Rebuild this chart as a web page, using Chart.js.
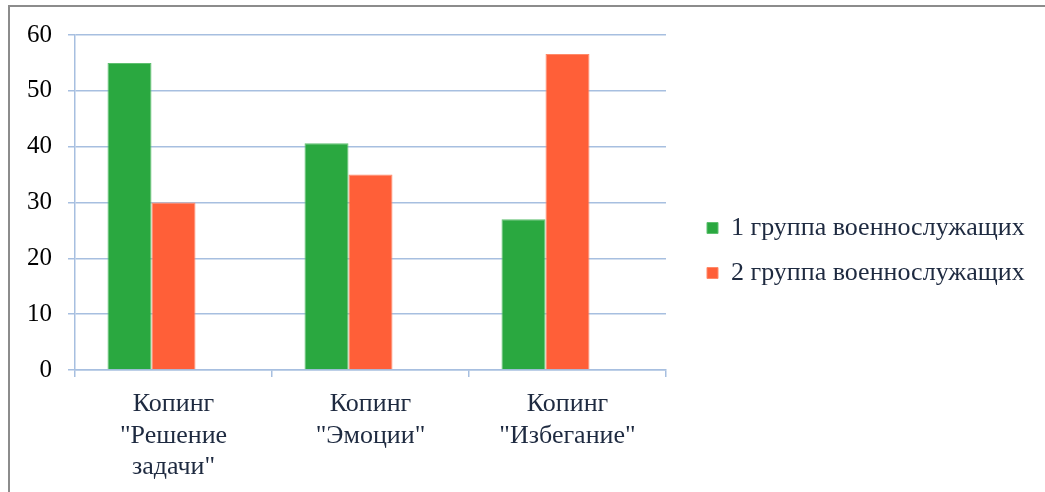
<!DOCTYPE html>
<html>
<head>
<meta charset="utf-8">
<script src="https://cdn.jsdelivr.net/npm/chart.js@4"></script>
<style>
  html, body { margin: 0; padding: 0; background: #fff; }
  #wrap { position: relative; width: 1045px; height: 492px; overflow: hidden; }
  #frame { position: absolute; left: 8px; top: 5px; width: 1100px; height: 600px;
           border-top: 2px solid #8c8c8c; border-left: 2px solid #8c8c8c; box-sizing: border-box; }
  canvas { position: absolute; left: 0; top: 0; }
</style>
</head>
<body>
<div id="wrap">
  <div id="frame"></div>
  <canvas id="c" width="1045" height="492"></canvas>
</div>
<script>
const categories = [
  ['Копинг', '"Решение', 'задачи"'],
  ['Копинг', '"Эмоции"'],
  ['Копинг', '"Избегание"']
];
const seriesNames = ['1 группа военнослужащих', '2 группа военнослужащих'];
const group1 = [55.0, 40.6, 27.0];
const group2 = [30.0, 35.0, 56.6];
const emptySeries = [null, null, null];
const yTicks = [0, 10, 20, 30, 40, 50, 60];

const serif = '"Liberation Serif", "Times New Roman", serif';
const gridColor = '#a7bfe0';
const legendFont = 26, legendPad = 19, legendBox = 11;

// measure legend text to size the legend box
const mctx = document.createElement('canvas').getContext('2d');
mctx.font = legendFont + 'px ' + serif;
const textW = Math.max(...seriesNames.map(s => mctx.measureText(s).width));
const legendW = Math.ceil(legendPad + legendBox + legendFont / 2 + textW) + 2;
const legendLeft = 688;
const padRight = Math.max(0, 1045 - legendLeft - legendW);

new Chart(document.getElementById('c'), {
  type: 'bar',
  data: {
    labels: categories,
    datasets: [
      { label: seriesNames[0], data: group1, backgroundColor: '#2aa840', borderColor: '#5fc070', borderWidth: 1 },
      { label: seriesNames[1], data: group2, backgroundColor: '#ff5f38', borderColor: '#ff8a6a', borderWidth: 1 },
      { label: '', data: emptySeries, backgroundColor: 'rgba(0,0,0,0)' }
    ]
  },
  options: {
    responsive: false,
    animation: false,
    devicePixelRatio: 1,
    layout: { padding: { top: 19, left: 26, right: padRight, bottom: 10 } },
    datasets: { bar: { categoryPercentage: 0.67, barPercentage: 1.0 } },
    plugins: {
      tooltip: { enabled: false },
      title: { display: true, text: ' ', fullSize: false, font: { size: 10 }, padding: { top: 0, bottom: 4 } },
      legend: {
        position: 'right',
        align: 'center',
        maxWidth: legendW,
        labels: {
          filter: (item) => item.text !== '',
          boxWidth: legendBox, boxHeight: legendBox,
          padding: legendPad,
          color: '#1e2a40',
          font: { family: serif, size: legendFont }
        }
      }
    },
    scales: {
      x: {
        offset: true,
        grid: { display: true, drawOnChartArea: false, drawTicks: true, tickLength: 7, offset: true, color: gridColor, lineWidth: 1.5 },
        border: { display: true, color: gridColor, width: 1.5 },
        ticks: { color: '#1e2a40', font: { family: serif, size: 26, lineHeight: 1.2 }, padding: 12, maxRotation: 0, autoSkip: false },
        afterFit: (s) => { s.paddingLeft = 0; s.paddingRight = 0; s.height = 112; }
      },
      y: {
        min: 0, max: 60,
        afterBuildTicks: (axis) => { axis.ticks = yTicks.map(v => ({ value: v })); },
        grid: { color: gridColor, lineWidth: 1.5, tickLength: 7 },
        border: { display: true, color: gridColor, width: 1.5 },
        ticks: { color: '#000', font: { family: serif, size: 25 }, padding: 16 },
        afterFit: (s) => { s.width = 49; }
      },
      gap: {
        type: 'linear',
        position: 'right',
        display: true,
        grid: { display: false, drawTicks: false },
        border: { display: false },
        ticks: { display: false },
        afterFit: (s) => { s.width = 22; }
      }
    }
  }
});
</script>
</body>
</html>
